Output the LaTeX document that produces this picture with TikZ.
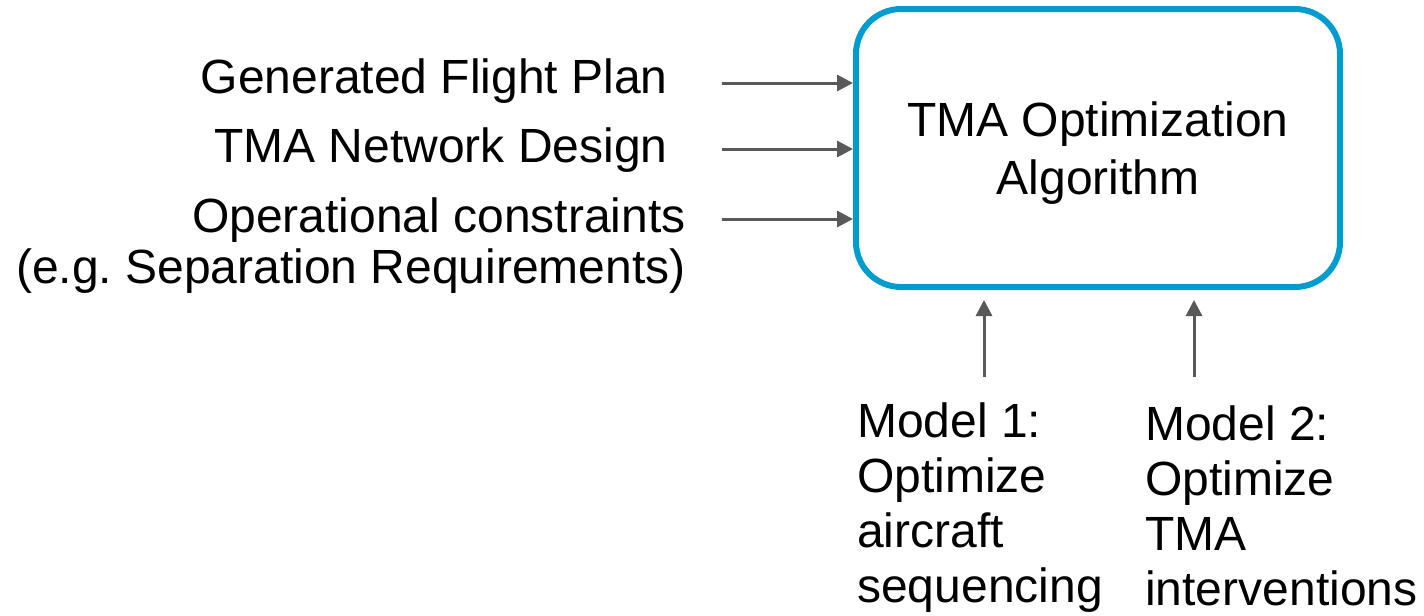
\documentclass[tikz,border=0pt]{standalone}
\usepackage{fontspec}
\setmainfont{Liberation Sans}
\usetikzlibrary{arrows.meta}
\definecolor{boxblue}{RGB}{0,156,206}
\definecolor{arrowgrey}{RGB}{89,89,89}
\frenchspacing
\begin{document}
\begin{tikzpicture}[x=0.75pt,y=-0.75pt,
  txt/.style={font=\fontsize{36pt}{36pt}\selectfont, inner sep=0pt, text=black},
  inlabel/.style={txt, anchor=base east},
  modlabel/.style={txt, align=left, anchor=base west, font=\fontsize{36pt}{41.25pt}\selectfont},
  algbox/.style={draw=boxblue, line width=4.5pt, rounded corners=33.75pt,
    minimum width=363pt, minimum height=208.5pt, align=center, txt,
    text depth=0pt, font=\fontsize{36pt}{43.5pt}\selectfont},
  feed/.style={draw=arrowgrey, line width=2.25pt, -{Triangle[length=12pt,width=12pt]}},
]
\useasboundingbox (0,0) rectangle (1424,615);

% central algorithm block
\node[algbox] (box) at (1098,148) {TMA Optimization\\Algorithm};

% inputs on the left
\node[inlabel] (gfp) at (668,93) {Generated Flight Plan};
\node[inlabel] (tnd) at (668,162) {TMA Network Design};
\node[txt, align=right, anchor=base east, font=\fontsize{36pt}{38.25pt}\selectfont]
  (opc) at (686,283) {Operational constraints\\(e.g. Separation Requirements)};

\coordinate (in1) at (722,83);
\coordinate (in2) at (722,149);
\coordinate (in3) at (722,219);
\draw[feed] (in1) -- (in1 -| box.west);
\draw[feed] (in2) -- (in2 -| box.west);
\draw[feed] (in3) -- (in3 -| box.west);

% models feeding from below
\node[modlabel] (mod1) at (857,602) {Model 1:\\Optimize\\aircraft\\sequencing};
\node[modlabel] (mod2) at (1145,605) {Model 2:\\Optimize\\TMA\\interventions};

\coordinate (up1) at (984,377);
\coordinate (up2) at (1194,377);
\draw[feed, shorten >=7.5pt] (up1) -- (up1 |- box.south);
\draw[feed, shorten >=7.5pt] (up2) -- (up2 |- box.south);
\end{tikzpicture}
\end{document}
